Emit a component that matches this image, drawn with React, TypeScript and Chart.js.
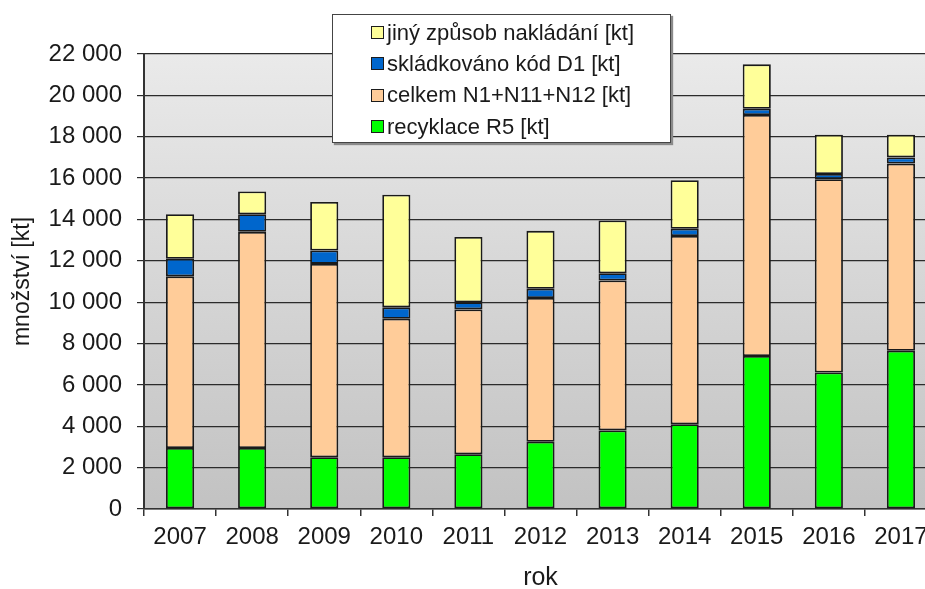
import React, { useEffect, useRef } from "react";
import { Chart, registerables } from "chart.js";

Chart.register(...registerables);

const years = ["2007", "2008", "2009", "2010", "2011", "2012", "2013", "2014", "2015", "2016", "2017"];
const recyklaceR5 = [2950, 2950, 2500, 2500, 2650, 3250, 3800, 4100, 7400, 6600, 7650];
const celkemN = [8300, 10450, 9350, 6700, 7000, 6950, 7250, 9100, 11650, 9350, 9050];
const skladkovanoD1 = [850, 850, 650, 550, 350, 450, 350, 350, 300, 250, 300];
const jinyZpusob = [2150, 1100, 2350, 5450, 3150, 2800, 2550, 2350, 2150, 1900, 1100];

const seriesNames = [
  "recyklace R5 [kt]",
  "celkem N1+N11+N12 [kt]",
  "skládkováno kód D1 [kt]",
  "jiný způsob nakládání [kt]",
];
const seriesColors = ["#00FF00", "#FFCC99", "#0066CC", "#FFFF99"];
const seriesValues = [recyklaceR5, celkemN, skladkovanoD1, jinyZpusob];

const yTitle = "množství [kt]";
const xTitle = "rok";
const yMax = 22000;
const yStep = 2000;

const FONT = "'Liberation Sans', Arial, sans-serif";

function fmt(v: number): string {
  return String(v).replace(/\B(?=(\d{3})+(?!\d))/g, " ");
}

const bgPlugin = {
  id: "plotBg",
  beforeDraw(chart: any) {
    const { ctx, chartArea } = chart;
    if (!chartArea) return;
    const g = ctx.createLinearGradient(0, chartArea.top, 0, chartArea.bottom);
    g.addColorStop(0, "#eaeaea");
    g.addColorStop(1, "#c2c2c2");
    ctx.save();
    ctx.fillStyle = g;
    ctx.fillRect(chartArea.left, chartArea.top, chartArea.right - chartArea.left, chartArea.bottom - chartArea.top);
    ctx.restore();
  },
};

export default function App() {
  const ref = useRef<HTMLCanvasElement | null>(null);

  useEffect(() => {
    if (!ref.current) return;
    const chart = new Chart(ref.current, {
      type: "bar",
      data: {
        labels: years,
        datasets: seriesNames.map((name, i) => ({
          label: name,
          data: seriesValues[i],
          backgroundColor: seriesColors[i],
          borderColor: "#1a1a1a",
          borderWidth: 1.8,
          borderSkipped: false,
          categoryPercentage: 1,
          barPercentage: 0.39,
        })),
      },
      options: {
        animation: false,
        responsive: false,
        maintainAspectRatio: false,
        devicePixelRatio: 1,
        layout: { padding: { top: 54, left: 0, right: 0, bottom: 0 } },
        plugins: {
          legend: { display: false },
          tooltip: { enabled: false },
        },
        scales: {
          x: {
            stacked: true,
            afterFit: (s: any) => {
              s.height = 80;
            },
            grid: {
              offset: true,
              drawOnChartArea: false,
              drawTicks: true,
              tickLength: 7,
              color: "#333",
              lineWidth: 1.5,
            },
            border: { display: true, color: "#333", width: 1.5 },
            ticks: {
              color: "#1a1a1a",
              padding: 7,
              font: { family: FONT, size: 24 },
              maxRotation: 0,
              autoSkip: false,
            },
            title: {
              display: true,
              text: xTitle,
              color: "#1a1a1a",
              font: { family: FONT, size: 25, lineHeight: 0.88 },
              padding: { top: 0, bottom: 0 },
            },
          },
          y: {
            stacked: true,
            min: 0,
            max: yMax,
            afterFit: (s: any) => {
              s.width = 144;
            },
            grid: {
              color: "#2b2b2b",
              lineWidth: 1.2,
              drawTicks: true,
              tickLength: 7,
            },
            border: { display: true, color: "#333", width: 2 },
            ticks: {
              stepSize: yStep,
              color: "#1a1a1a",
              padding: 15,
              font: { family: FONT, size: 24 },
              callback: (v: any) => fmt(Number(v)),
            },
            title: {
              display: true,
              text: yTitle,
              color: "#1a1a1a",
              font: { family: FONT, size: 23 },
              padding: { top: 9, bottom: 0 },
            },
          },
        },
      },
      plugins: [bgPlugin],
    });
    return () => chart.destroy();
  }, []);

  const legendOrder = [3, 2, 1, 0];

  return (
    <div
      style={{
        position: "fixed",
        left: 0,
        top: 0,
        width: 925,
        height: 589,
        overflow: "hidden",
        background: "#fff",
      }}
    >
      <div style={{ position: "relative", width: 937, height: 589 }}>
        <canvas ref={ref} width={937} height={589} style={{ width: 937, height: 589, display: "block" }} />
        <div
          style={{
            position: "absolute",
            left: 332,
            top: 14,
            width: 337,
            height: 125,
            background: "#fff",
            border: "1.5px solid #444",
            boxShadow: "2px 2px 1px #8a8a8a",
            fontFamily: FONT,
            fontSize: 22,
            color: "#1a1a1a",
            paddingTop: 2,
            boxSizing: "content-box",
          }}
        >
          {legendOrder.map((i) => (
            <div
              key={i}
              style={{
                display: "flex",
                alignItems: "center",
                height: 31.3,
                paddingLeft: 38,
                whiteSpace: "nowrap",
              }}
            >
              <span
                style={{
                  display: "inline-block",
                  width: 11,
                  height: 11,
                  background: seriesColors[i],
                  border: "1.5px solid #1c1c1c",
                  marginRight: 3,
                }}
              />
              <span>{seriesNames[i]}</span>
            </div>
          ))}
        </div>
      </div>
    </div>
  );
}
